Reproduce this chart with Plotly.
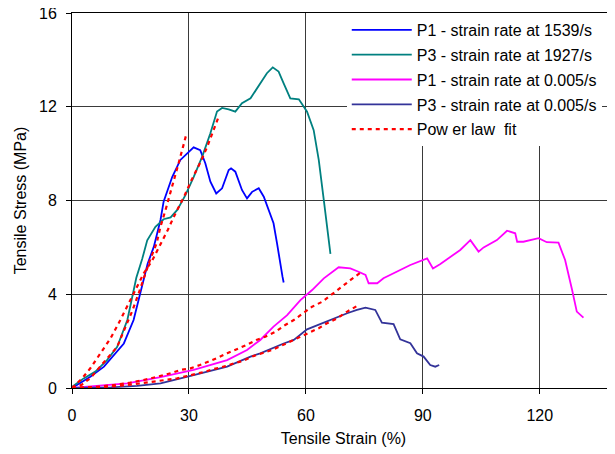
import plotly.graph_objects as go

# ---- data ----
p1_fast_x = [0, 1.3, 4.7, 8.2, 10.7, 13.3, 15.8, 17.6, 19.4, 21.0, 22.7, 23.5, 25.7, 27.8, 29.9, 31.2,
             32.9, 34.2, 35.5, 37.0, 38.5, 40.2, 40.8, 41.9, 43.6, 44.9, 46.2, 47.9, 49.2, 50.5, 51.7,
             52.6, 53.5, 54.0, 54.3]
p1_fast_y = [0, 0.13, 0.48, 0.91, 1.41, 1.9, 2.9, 4.04, 5.3, 6.03, 7.17, 7.95, 9.0, 9.73, 10.08, 10.27,
             10.15, 9.59, 8.8, 8.3, 8.52, 9.3, 9.37, 9.23, 8.45, 8.09, 8.37, 8.52, 8.16, 7.59, 7.03,
             6.17, 5.17, 4.75, 4.5]

p3_fast_x = [0, 3.0, 6.0, 9.0, 11.6, 14.2, 16.5, 18.0, 19.3, 21.4, 23.5, 25.3, 27.0, 29.1, 31.2, 33.4,
             35.5, 37.2, 38.5, 40.2, 41.9, 43.6, 45.8, 48.3, 50.0, 51.5, 53.0, 54.3, 56.0, 58.2, 60.3,
             62.0, 63.3, 64.6, 65.4, 66.3]
p3_fast_y = [0.05, 0.41, 0.7, 1.19, 1.76, 2.9, 4.7, 5.5, 6.3, 6.88, 7.2, 7.28, 7.6, 8.23, 9.0, 9.87,
             10.87, 11.8, 11.95, 11.89, 11.79, 12.15, 12.36, 13.0, 13.43, 13.68, 13.5, 13.0, 12.36, 12.32, 11.79,
             11.0, 9.73, 8.02, 6.88, 5.72]

p1_slow_x = [0, 4.7, 14.2, 22.7, 31.2, 39.8, 44.9, 48.3, 51.7, 55.2, 58.6, 61.6, 64.6, 68.4, 71.4, 73.5,
             75.3, 76.1, 78.3, 79.9, 83.4, 86.8, 91.1, 92.6, 94.5, 97.1, 99.6, 102.2, 103.2, 104.3, 105.6,
             109.0, 111.6, 113.7, 114.2, 115.8, 119.7, 121.8, 124.8, 126.5, 128.3, 129.5, 131.2]
p1_slow_y = [0, 0.06, 0.2, 0.46, 0.77, 1.19, 1.62, 2.05, 2.62, 3.11, 3.75, 4.18, 4.68, 5.15, 5.1, 4.96,
             4.82, 4.47, 4.47, 4.68, 4.96, 5.25, 5.53, 5.1, 5.29, 5.6, 5.89, 6.31, 6.1, 5.82, 6.0,
             6.31, 6.71, 6.6, 6.24, 6.24, 6.39, 6.22, 6.2, 5.46, 4.18, 3.26, 3.0]

p3_slow_x = [0, 10, 16.7, 22.7, 31.2, 39.8, 45.8, 48.3, 54.3, 56.9, 60.3, 65.4, 70.6, 73.1, 75.3, 77.8,
             79.5, 82.5, 84.2, 86.8, 88.5, 90.2, 91.9, 93.2, 94.2]
p3_slow_y = [0, 0.03, 0.09, 0.2, 0.55, 0.91, 1.34, 1.48, 1.9, 2.05, 2.5, 2.85, 3.19, 3.33, 3.43, 3.33,
             2.79, 2.73, 2.08, 1.91, 1.48, 1.34, 0.98, 0.91, 0.98]

fit_a_x = [0, 2.5, 4.7, 7.3, 9.9, 11.6, 13.7, 15.4, 17.1, 18.8, 20.1, 21.7, 22.7, 24.0, 25.1, 25.9,
           27.2, 28.5, 29.4]
fit_a_y = [0, 0.14, 0.42, 0.91, 1.4, 1.76, 2.6, 3.26, 4.04, 4.89, 5.5, 6.17, 6.88, 7.6, 8.23, 8.8,
           9.5, 10.3, 10.87]

fit_b_x = [0, 2.6, 4.7, 6.5, 8.2, 9.9, 12.4, 15.0, 16.7, 18.4, 20.6, 22.3, 24.6, 26.1, 28.7, 30.6,
           33.0, 34.7, 36.2, 37.6]
fit_b_y = [0, 0.41, 0.84, 1.27, 1.69, 2.12, 2.9, 3.75, 4.32, 4.89, 5.45, 6.0, 6.75, 7.3, 8.15, 8.85,
           9.65, 10.3, 11.0, 11.57]

fit_c_x = [0, 5, 10, 15, 20, 22.7, 25.3, 27.8, 30.4, 32.8, 35.1, 37.5, 39.8, 42.4, 44.7, 47.3, 49.6,
           52.2, 54.7, 56.9, 59.4, 61.6, 64.2, 66.7, 68.8, 71.4, 74.0]
fit_c_y = [0, 0.03, 0.11, 0.23, 0.4, 0.51, 0.63, 0.77, 0.84, 0.98, 1.12, 1.3, 1.48, 1.66, 1.83, 2.05, 2.19,
           2.4, 2.69, 2.9, 3.19, 3.47, 3.68, 4.01, 4.25, 4.6, 4.92]

fit_d_x = [0, 5, 10, 15, 20, 24.4, 27.0, 29.5, 31.9, 34.2, 36.4, 38.9, 41.5, 43.9, 46.2, 48.8, 51.3,
           53.5, 56.0, 58.6, 61.2, 63.3, 65.4, 68.0, 70.6, 73.1]
fit_d_y = [0, 0.02, 0.06, 0.14, 0.25, 0.37, 0.41, 0.51, 0.6, 0.7, 0.81, 0.91, 1.05, 1.16, 1.34, 1.48, 1.62,
           1.79, 1.98, 2.19, 2.38, 2.55, 2.76, 2.97, 3.26, 3.5]

x_ticks = [0, 30, 60, 90, 120]
y_ticks = [0, 4, 8, 12, 16]

FONT = "Liberation Sans, Arial, sans-serif"

fig = go.Figure()

series = [
    ("P1 - strain rate at 1539/s", p1_fast_x, p1_fast_y, "#0000FF"),
    ("P3 - strain rate at 1927/s", p3_fast_x, p3_fast_y, "#008080"),
    ("P1 - strain rate at 0.005/s", p1_slow_x, p1_slow_y, "#FF00FF"),
    ("P3 - strain rate at 0.005/s", p3_slow_x, p3_slow_y, "#333399"),
]
for i, (name, xs, ys, col) in enumerate(series):
    fig.add_trace(go.Scatter(x=xs, y=ys, mode="lines", name=name, legendgroup=f"g{i}",
                             line=dict(color=col, width=1.8)))

fits = [(fit_a_x, fit_a_y), (fit_b_x, fit_b_y), (fit_c_x, fit_c_y), (fit_d_x, fit_d_y)]
for j, (xs, ys) in enumerate(fits):
    fig.add_trace(go.Scatter(x=xs, y=ys, mode="lines", name="Pow er law  fit", legendgroup="fit",
                             showlegend=(j == 0),
                             line=dict(color="#FF0000", width=2.2, dash="4px,4px")))

# the page body adds an 8px offset, so the figure is sized to fill the rest of the window
fig.update_layout(
    width=607, height=446,
    margin=dict(l=64, r=0, t=5, b=66),
    paper_bgcolor="white", plot_bgcolor="white",
    font=dict(family=FONT, size=16, color="black"),
    showlegend=True,
    legend=dict(x=0.506, y=1.0, xanchor="left", yanchor="top",
                bgcolor="white", borderwidth=0, font=dict(size=16),
                traceorder="grouped", tracegroupgap=1, itemwidth=60),
    xaxis=dict(range=[0, 139.3], tickvals=x_ticks, ticktext=[str(v) for v in x_ticks],
               showgrid=True, gridcolor="#3a3a3a", gridwidth=1,
               showline=True, linecolor="black", linewidth=1, mirror=True,
               ticks="outside", ticklen=5, tickcolor="black", ticklabelstandoff=8,
               ticklabeloverflow="allow",
               zeroline=False, automargin=False,
               title=dict(text="Tensile Strain (%)", font=dict(size=16), standoff=9)),
    yaxis=dict(range=[0, 16], tickvals=y_ticks, ticktext=[str(v) for v in y_ticks],
               showgrid=True, gridcolor="#3a3a3a", gridwidth=1,
               showline=True, linecolor="black", linewidth=1,
               ticks="outside", ticklen=5, tickcolor="black", ticklabelstandoff=6,
               ticklabeloverflow="allow",
               zeroline=False, automargin=False,
               title=dict(text="Tensile Stress (MPa)", font=dict(size=16), standoff=8)),
)

fig.write_html("out.html")
